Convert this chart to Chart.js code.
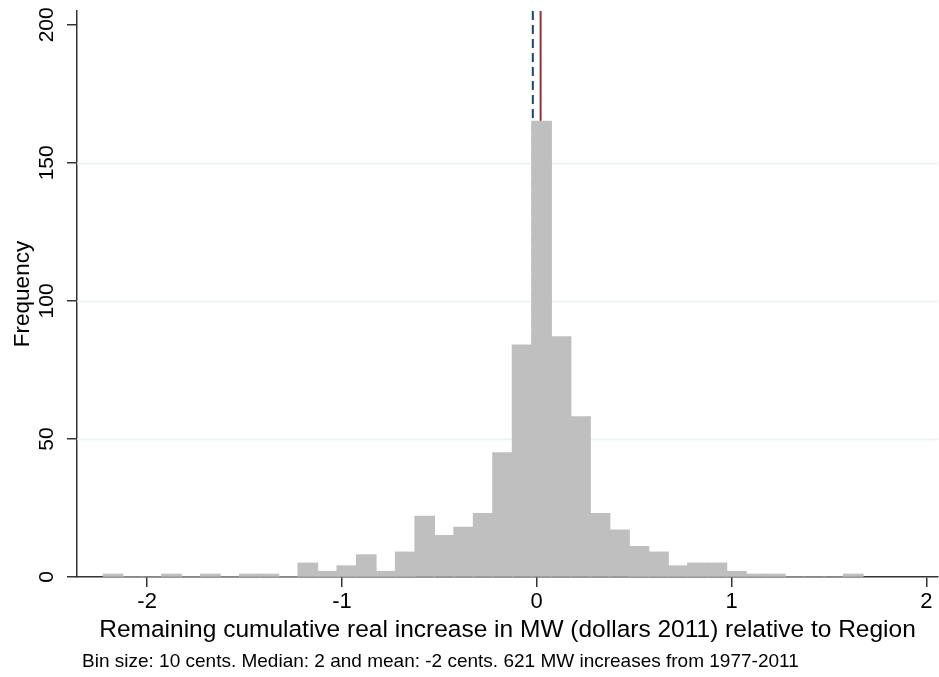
<!DOCTYPE html>
<html>
<head>
<meta charset="utf-8">
<script src="https://cdn.jsdelivr.net/npm/chart.js@4.4.1/dist/chart.umd.min.js"></script>
<style>
  body { margin: 0; background: #fff; }
  #wrap { width: 939px; height: 677px; }
</style>
</head>
<body>
<div id="wrap"><canvas id="myChart"></canvas></div>
<script>
// bin centres (10 cent bins) and counts
var binCenters = [-2.175, -2.075, -1.975, -1.875, -1.775, -1.675, -1.575, -1.475, -1.375, -1.275,
                  -1.175, -1.075, -0.975, -0.875, -0.775, -0.675, -0.575, -0.475, -0.375, -0.275,
                  -0.175, -0.075, 0.025, 0.125, 0.225, 0.325, 0.425, 0.525, 0.625, 0.725,
                  0.825, 0.925, 1.025, 1.125, 1.225, 1.325, 1.425, 1.525, 1.625];
var frequency = [1, 0, 0, 1, 0, 1, 0, 1, 1, 0,
                 5, 2, 4, 8, 2, 9, 22, 15, 18, 23,
                 45, 84, 165, 87, 58, 23, 17, 11, 9, 4,
                 5, 5, 2, 1, 1, 0, 0, 0, 1];
var xTicks = [-2, -1, 0, 1, 2];
var yTicks = [0, 50, 100, 150, 200];
var gridValues = [50, 100, 150];
var meanValue = -0.02;
var medianValue = 0.02;

var noteText = 'Bin size: 10 cents. Median: 2 and mean: -2 cents. 621 MW increases from 1977-2011';
var fontFamily = '"Liberation Sans", Arial, Helvetica, sans-serif';

document.addEventListener('DOMContentLoaded', function () {
    var ctx = document.getElementById('myChart').getContext('2d');

    var points = binCenters.map(function (c, i) {
        return { x: c, y: frequency[i] };
    });

    // grid lines and mean / median lines behind the bars
    var backLines = {
        id: 'backLines',
        beforeDatasetsDraw: function (chart) {
            var c = chart.ctx, a = chart.chartArea;
            var xs = chart.scales.x, ys = chart.scales.y;
            c.save();
            c.strokeStyle = '#eaf2f3';
            c.lineWidth = 1.5;
            gridValues.forEach(function (v) {
                var py = Math.round(ys.getPixelForValue(v)) + 0.5;
                c.beginPath();
                c.moveTo(a.left, py);
                c.lineTo(a.right, py);
                c.stroke();
            });
            // mean: dashed navy
            var mx = xs.getPixelForValue(meanValue);
            c.strokeStyle = '#1a476f';
            c.lineWidth = 2;
            c.setLineDash([9, 5]);
            c.beginPath();
            c.moveTo(mx, a.top);
            c.lineTo(mx, a.bottom);
            c.stroke();
            // median: solid red
            var dx = xs.getPixelForValue(medianValue);
            c.setLineDash([]);
            c.strokeStyle = '#90353b';
            c.beginPath();
            c.moveTo(dx, a.top);
            c.lineTo(dx, a.bottom);
            c.stroke();
            c.restore();
        },
        afterDraw: function (chart) {
            var c = chart.ctx, ys = chart.scales.y;
            c.save();
            c.fillStyle = '#000';
            // vertical y tick labels
            c.font = '21px ' + fontFamily;
            c.textAlign = 'center';
            c.textBaseline = 'middle';
            yTicks.forEach(function (v) {
                c.save();
                c.translate(47, ys.getPixelForValue(v));
                c.rotate(-Math.PI / 2);
                c.fillText(String(v), 0, 0);
                c.restore();
            });
            // note under the chart
            c.font = '19px ' + fontFamily;
            c.textAlign = 'left';
            c.fillText(noteText, 82, 662);
            c.restore();
        }
    };

    var myChart = new Chart(ctx, {
        type: 'bar',
        data: {
            datasets: [{
                data: points,
                backgroundColor: '#bfbfbf',
                borderWidth: 0,
                inflateAmount: 0.6,
                barPercentage: 1.0,
                categoryPercentage: 1.0
            }]
        },
        options: {
            responsive: true,
            maintainAspectRatio: false,
            animation: false,
            layout: { padding: { top: 11, right: 1, bottom: 32, left: 0 } },
            plugins: {
                legend: { display: false },
                tooltip: { enabled: false }
            },
            scales: {
                x: {
                    type: 'linear',
                    min: -2.36,
                    max: 2.06,
                    offset: false,
                    afterBuildTicks: function (scale) {
                        scale.ticks = xTicks.map(function (v) { return { value: v }; });
                    },
                    afterFit: function (scale) { scale.height = 68; },
                    grid: { offset: false, drawOnChartArea: false, color: '#333', tickLength: 10, lineWidth: 1.5 },
                    border: { color: '#333', width: 1.5 },
                    ticks: {
                        color: '#000',
                        padding: 2,
                        maxRotation: 0,
                        font: { family: fontFamily, size: 22 },
                        callback: function (v) { return String(v); }
                    },
                    title: {
                        display: true,
                        text: 'Remaining cumulative real increase in MW (dollars 2011) relative to Region',
                        color: '#000',
                        padding: { top: 0, bottom: 0 },
                        font: { family: fontFamily, size: 24.5 }
                    }
                },
                y: {
                    min: 0,
                    max: 205,
                    afterBuildTicks: function (scale) {
                        scale.ticks = yTicks.map(function (v) { return { value: v }; });
                    },
                    afterFit: function (scale) { scale.width = 77; },
                    grid: { drawOnChartArea: false, color: '#333', tickLength: 10, lineWidth: 1.5 },
                    border: { color: '#333', width: 1.5 },
                    ticks: { display: false },
                    title: {
                        display: true,
                        text: 'Frequency',
                        color: '#000',
                        padding: { top: 9, bottom: 0 },
                        font: { family: fontFamily, size: 22.5 }
                    }
                }
            }
        },
        plugins: [backLines]
    });
});
</script>
</body>
</html>
